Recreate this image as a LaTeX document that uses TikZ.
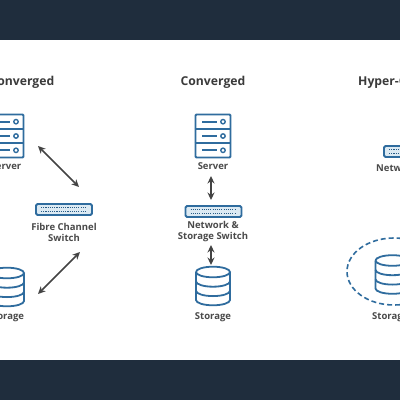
\documentclass[tikz,border=0pt]{standalone}
\usepackage{fontspec}
\setmainfont{Open Sans}
\usetikzlibrary{arrows.meta,calc,shapes.geometric}
\definecolor{band}{HTML}{1F2D3D}
\definecolor{icon}{HTML}{2F6C9E}
\definecolor{swfill}{HTML}{DCEAF3}
\definecolor{lbl}{HTML}{4A4A4A}
\definecolor{ttl}{HTML}{3A3A3A}
\tikzset{
  x=1pt,y=-1pt,
  ttlnode/.style={font=\fontsize{12.2}{14}\selectfont\bfseries,text=ttl,inner sep=0pt},
  lblnode/.style={font=\fontsize{9.5}{11}\selectfont\bfseries,text=lbl,align=center,inner sep=0pt},
  iconline/.style={draw=icon,line width=1.8pt},
  srvbox/.style={iconline,rounded corners=1pt,minimum width=35pt,minimum height=43pt,inner sep=0pt},
  swbox/.style={iconline,fill=swfill,rounded corners=1.5pt,minimum height=11pt,inner sep=0pt},
  cylbox/.style={minimum width=35pt,minimum height=39pt,inner sep=0pt},
  dblarrow/.style={draw=lbl!90!black,line width=1.6pt,{Stealth[length=7.5pt,width=7pt]}-{Stealth[length=7.5pt,width=7pt]}},
}
% name, centre x, centre y
\newcommand{\serverIcon}[3]{%
  \node[srvbox] (#1) at (#2,#3) {};
  \foreach \r in {-1,0,1}{
    \ifnum\r<1 \draw[iconline] ($(#1.west)+(0,{(\r+0.5)*14.3})$) -- ($(#1.east)+(0,{(\r+0.5)*14.3})$);\fi
    \draw[iconline] ($(#1.center)+(-11,{\r*14.3})$) -- ($(#1.center)+(4,{\r*14.3})$);
    \draw[draw=icon,line width=1.4pt] ($(#1.center)+(10,{\r*14.3})$) circle (2.2pt);
  }
}
% name, centre x, centre y, width
\newcommand{\switchIcon}[4]{%
  \node[swbox,minimum width=#4pt] (#1) at (#2,#3) {};
  \draw[icon!85!black,line width=1.1pt,dash pattern=on 1.1pt off 1.1pt] ($(#1.center)+({-#4/2+5},-1.6)$) -- ($(#1.center)+({#4/2-5},-1.6)$);
  \draw[icon!85!black,line width=1.1pt,dash pattern=on 1.1pt off 1.1pt] ($(#1.center)+({-#4/2+5},1.6)$) -- ($(#1.center)+({#4/2-5},1.6)$);
}
% name, centre x, centre y
\newcommand{\storageIcon}[3]{%
  \node[cylbox] (#1) at (#2,#3) {};
  \begin{scope}[shift={(#1.center)}]
    \draw[iconline] (-17,-14) arc[start angle=180,end angle=-180,x radius=17,y radius=5.3];
    \draw[iconline] (-17,-14) -- (-17,14) arc[start angle=180,end angle=0,x radius=17,y radius=5.3] -- (17,-14);
    \draw[iconline] (-17,-4.6) arc[start angle=180,end angle=0,x radius=17,y radius=5.3];
    \draw[iconline] (-17,4.8) arc[start angle=180,end angle=0,x radius=17,y radius=5.3];
  \end{scope}
}
\begin{document}
\begin{tikzpicture}
\useasboundingbox (0,0) rectangle (400,400);
\clip (0,0) rectangle (400,400);
\fill[white] (0,0) rectangle (400,400);
\fill[band] (0,0) rectangle (400,40);
\fill[band] (0,360) rectangle (400,400);
% titles
\node[ttlnode,anchor=east] (t1) at (54.5,82) {Non-Converged};
\node[ttlnode] (t2) at (213,82) {Converged};
\node[ttlnode,anchor=west] (t3) at (358,82) {Hyper-Converged};
% left column
\serverIcon{s1}{6}{136}
\node[lblnode] (s1l) at (6,166) {Server};
\switchIcon{w1}{64}{209.5}{56}
\node[lblnode] (w1l) at (64,232.5) {Fibre Channel\\Switch};
\storageIcon{d1}{7}{287}
\node[lblnode] (d1l) at (6,317) {Storage};
\coordinate (a1) at (38,146);
\coordinate (a2) at (79,187);
\coordinate (a3) at (80,252);
\coordinate (a4) at (38,294);
\draw[dblarrow] (a1) -- (a2);
\draw[dblarrow] (a3) -- (a4);
% centre column
\serverIcon{s2}{213}{136}
\node[lblnode] (s2l) at (213,166) {Server};
\switchIcon{w2}{213.5}{211.5}{56}
\node[lblnode] (w2l) at (213,231.5) {Network \&\\Storage Switch};
\storageIcon{d2}{213}{286}
\node[lblnode] (d2l) at (213,317) {Storage};
\coordinate (b1) at (211,176);
\coordinate (b2) at (211,200);
\coordinate (b3) at (211,245);
\coordinate (b4) at (211,265);
\draw[dblarrow] (b1) -- (b2);
\draw[dblarrow] (b3) -- (b4);
% right column
\switchIcon{w3}{412}{151.5}{56}
\node[lblnode,anchor=west] (w3l) at (376,168) {Network};
\storageIcon{d3}{392.5}{274.5}
\node[lblnode,anchor=west] (d3l) at (372,317) {Storage};
\node[draw=icon,line width=1.6pt,dash pattern=on 5pt off 3pt,ellipse,minimum width=94pt,minimum height=67pt,inner sep=0pt] (e3) at (394,271.5) {};
\end{tikzpicture}
\end{document}
